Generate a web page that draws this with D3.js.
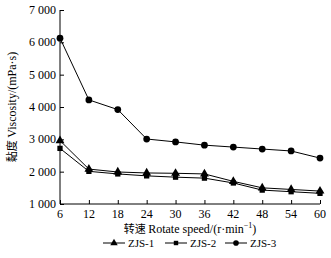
<!DOCTYPE html>
<html>
<head>
<meta charset="utf-8">
<script src="https://cdn.jsdelivr.net/npm/d3@7"></script>
<style>
body { margin: 0; background: #fff; }
svg text { font-family: "Liberation Serif", "Times New Roman", serif; fill: #000; }
.cjk { font-family: "Noto Sans CJK SC", sans-serif; }
</style>
</head>
<body>
<svg id="chart" width="331" height="258"></svg>
<script>
var speeds = [6, 12, 18, 24, 30, 36, 42, 48, 54, 60];
var zjs1 = [2960, 2080, 1990, 1960, 1950, 1930, 1700, 1500, 1450, 1400];
var zjs2 = [2720, 2010, 1930, 1870, 1830, 1800, 1650, 1430, 1380, 1330];
var zjs3 = [6130, 4220, 3920, 3010, 2920, 2820, 2760, 2700, 2640, 2420];
var seriesNames = ["ZJS-1", "ZJS-2", "ZJS-3"];
var yTicks = [1000, 2000, 3000, 4000, 5000, 6000, 7000];

var svg = d3.select("#chart");
var x = d3.scaleLinear().domain([6, 60]).range([60, 320]);
var y = d3.scaleLinear().domain([1000, 7000]).range([204, 10]);

var fmt = function (d) { return d3.format(",")(d).replace(",", " "); };

var yAxis = svg.append("g").attr("transform", "translate(60,0)")
    .call(d3.axisRight(y).tickValues(yTicks).tickSize(4).tickFormat(""));
var xAxis = svg.append("g").attr("transform", "translate(0,204)")
    .call(d3.axisTop(x).tickValues(speeds).tickSize(4).tickFormat(""));
svg.selectAll(".domain").attr("stroke", "#000").attr("stroke-width", 1);
svg.selectAll(".tick line").attr("stroke", "#000");
yAxis.select(".domain").attr("d", "M0,10V204");
xAxis.select(".domain").attr("d", "M60,0H320");

svg.append("g").selectAll("text").data(yTicks).join("text")
    .attr("x", 56).attr("y", d => y(d) + 4)
    .attr("text-anchor", "end").attr("font-size", 12)
    .text(fmt);

svg.append("g").selectAll("text").data(speeds).join("text")
    .attr("x", d => x(d)).attr("y", 218)
    .attr("text-anchor", "middle").attr("font-size", 12)
    .text(d => d);

// axis titles
var yt = svg.append("text").attr("transform", "translate(16,107) rotate(-90)")
    .attr("text-anchor", "middle").attr("font-size", 12);
yt.append("tspan").attr("class", "cjk").attr("font-size", 11).text("黏度 ");
yt.append("tspan").text("Viscosity/(mPa·s)");

var xt = svg.append("text").attr("x", 190).attr("y", 233)
    .attr("text-anchor", "middle").attr("font-size", 12);
xt.append("tspan").attr("class", "cjk").attr("font-size", 11).text("转速 ");
xt.append("tspan").text(" Rotate speed/(r·min");
xt.append("tspan").attr("font-size", 8).attr("dy", -5).text("−1");
xt.append("tspan").attr("dy", 5).text(")");

var allSeries = [zjs1, zjs2, zjs3];
var shapes = [d3.symbolTriangle, d3.symbolSquare, d3.symbolCircle];
var sizes = [34, 28, 36];
var line = d3.line().x((d, i) => x(speeds[i])).y(d => y(d));

allSeries.forEach(function (vals, k) {
    svg.append("path").datum(vals)
        .attr("d", line).attr("fill", "none")
        .attr("stroke", "#000").attr("stroke-width", 1);
    svg.append("g").selectAll("path").data(vals).join("path")
        .attr("transform", (d, i) => "translate(" + x(speeds[i]) + "," + y(d) + ")")
        .attr("d", d3.symbol().type(shapes[k]).size(sizes[k]))
        .attr("fill", "#000");
});

// legend
var legendX = [103, 165, 225];
var lg = svg.append("g").selectAll("g").data(seriesNames).join("g")
    .attr("transform", (d, i) => "translate(" + legendX[i] + ",243)");
lg.append("line").attr("x1", 0).attr("x2", 22).attr("stroke", "#000");
lg.append("path").attr("transform", "translate(11,0)")
    .attr("d", (d, i) => d3.symbol().type(shapes[i]).size(sizes[i] * 0.7)())
    .attr("fill", "#000");
lg.append("text").attr("x", 25).attr("y", 4).attr("font-size", 11).text(d => d);
</script>
</body>
</html>
